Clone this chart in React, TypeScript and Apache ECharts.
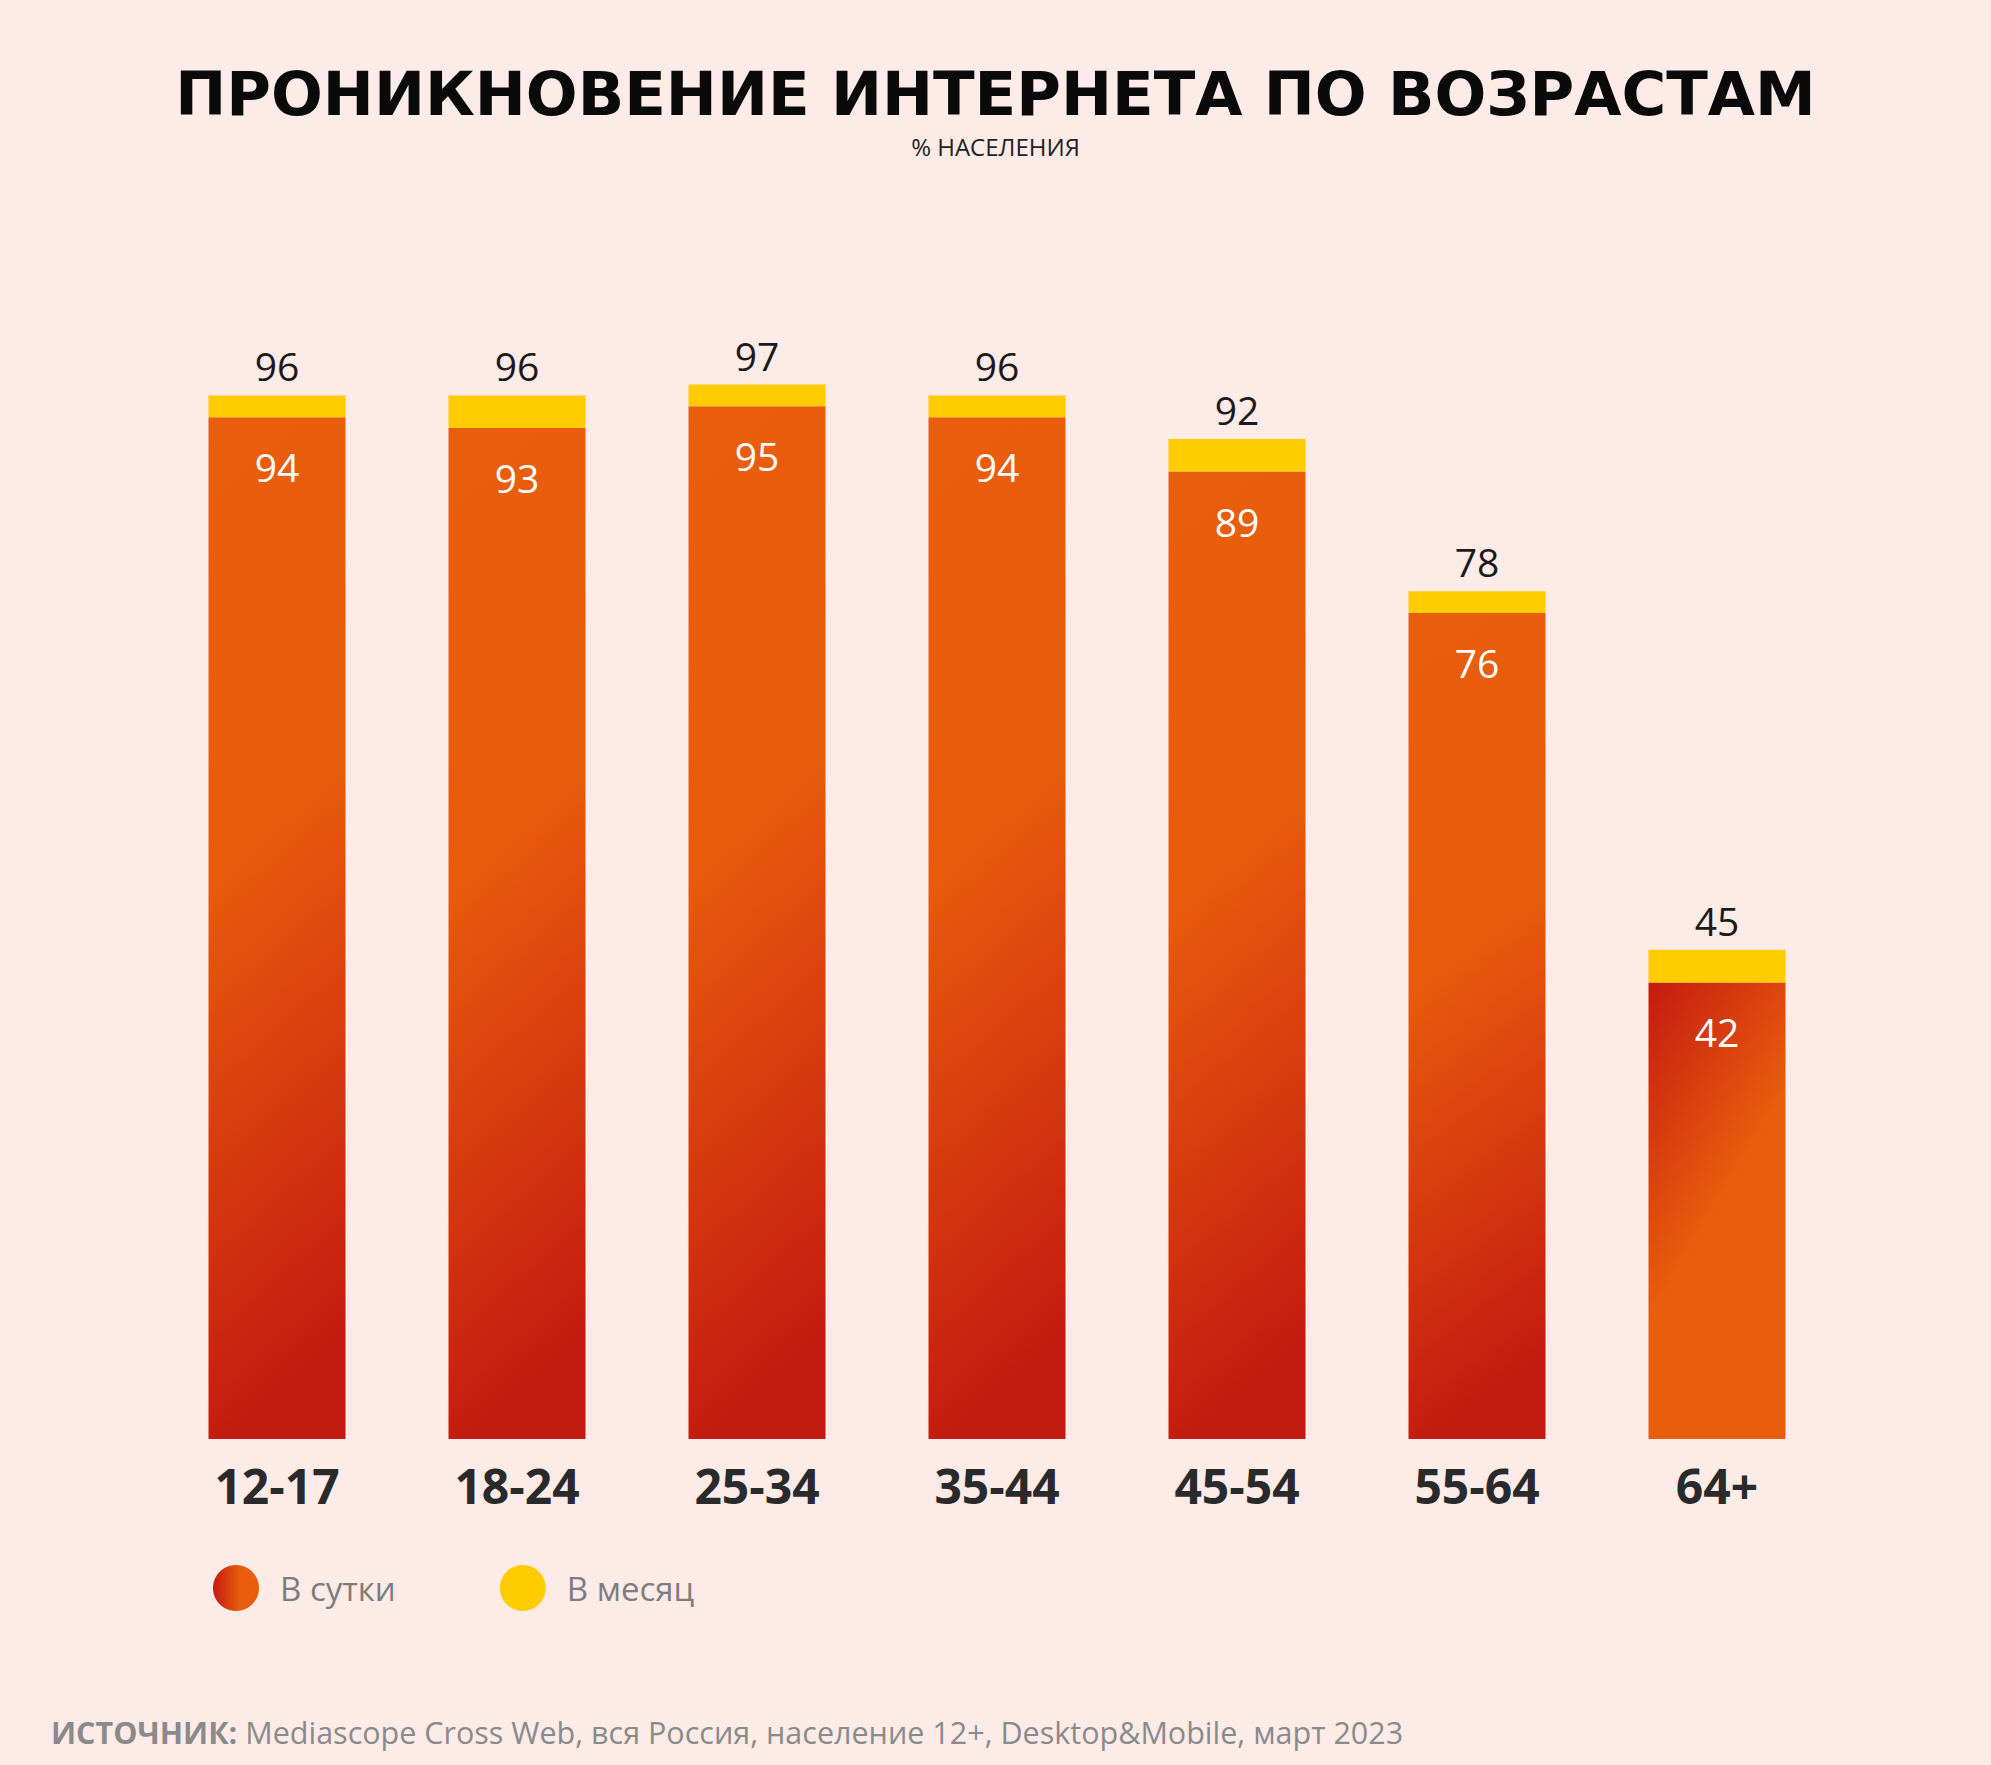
import { useEffect, useRef } from "react";
import * as echarts from "echarts";

const categories = ["12-17", "18-24", "25-34", "35-44", "45-54", "55-64", "64+"];
const daily = [94, 93, 95, 94, 89, 76, 42];
const monthly = [96, 96, 97, 96, 92, 78, 45];

const seriesNames = ["В сутки", "В месяц"];

const TITLE = "ПРОНИКНОВЕНИЕ ИНТЕРНЕТА ПО ВОЗРАСТАМ";
const SUBTITLE = "% НАСЕЛЕНИЯ";
const SOURCE = "Mediascope Cross Web, вся Россия, население 12+, Desktop&Mobile, март 2023";

const BG = "#FDEBE8";
const YELLOW = "#FFCC00";
const ORANGE = "#E95E0D";
const RED = "#C41B10";

export default function App() {
  const chartRef = useRef<HTMLDivElement>(null);

  useEffect(() => {
    document.body.style.margin = "0";
    if (!chartRef.current) return;
    const chart = echarts.init(chartRef.current, null, { renderer: "svg" });

    // основной градиент: оранжевый сверху, красный снизу
    const dailyGrad = new echarts.graphic.LinearGradient(0, 0, 0.12, 1, [
      { offset: 0, color: ORANGE },
      { offset: 0.45, color: "#E85B0D" },
      { offset: 1, color: RED },
    ]);
    // у 64+ градиент перевёрнут
    const lastGrad = new echarts.graphic.LinearGradient(0, 0, 0.3, 0.6, [
      { offset: 0, color: RED },
      { offset: 1, color: ORANGE },
    ]);
    const legendGrad = new echarts.graphic.LinearGradient(0, 0, 1, 0, [
      { offset: 0, color: RED },
      { offset: 0.6, color: ORANGE },
      { offset: 1, color: ORANGE },
    ]);

    const option: echarts.EChartsOption = {
      animation: false,
      backgroundColor: BG,
      title: [
        {
          text: TITLE,
          left: "center",
          top: 58,
          textStyle: {
            fontFamily: "DejaVu Sans",
            fontWeight: 900,
            fontSize: 61,
            color: "#0a0a0a",
          },
        },
        {
          text: SUBTITLE,
          left: "center",
          top: 129,
          textStyle: {
            fontFamily: "Open Sans",
            fontWeight: "normal",
            fontSize: 24,
            color: "#222",
          },
        },
      ],
      legend: {
        left: 208,
        top: 1560,
        icon: "circle",
        itemWidth: 46,
        itemHeight: 46,
        itemGap: 104,
        textStyle: {
          fontFamily: "Open Sans",
          fontSize: 33,
          color: "#7d7d7d",
          padding: [0, 0, 0, 16],
        },
        data: [
          { name: seriesNames[0], itemStyle: { color: legendGrad } },
          { name: seriesNames[1], itemStyle: { color: YELLOW } },
        ],
      },
      grid: { left: 157, right: 154, top: 352, bottom: 326 },
      xAxis: {
        type: "category",
        data: categories,
        axisLine: { show: false },
        axisTick: { show: false },
        axisLabel: {
          margin: 22,
          fontFamily: "Open Sans",
          fontWeight: "bold",
          fontSize: 48,
          color: "#2a2a2a",
        },
      },
      yAxis: {
        type: "value",
        min: 0,
        max: 100,
        show: false,
      },
      series: [
        {
          name: seriesNames[0],
          type: "bar",
          stack: "total",
          barWidth: 137,
          itemStyle: { color: dailyGrad },
          label: {
            show: true,
            position: "insideTop",
            distance: 30,
            fontFamily: "Open Sans",
            fontSize: 39,
            color: "#fff",
          },
          data: daily.map((v, i) =>
            i === daily.length - 1 ? { value: v, itemStyle: { color: lastGrad } } : v
          ),
        },
        {
          name: seriesNames[1],
          type: "bar",
          stack: "total",
          barWidth: 137,
          itemStyle: { color: YELLOW },
          label: {
            show: true,
            position: "top",
            distance: 10,
            fontFamily: "Open Sans",
            fontSize: 39,
            color: "#1a1a1a",
            formatter: (p: any) => String(monthly[p.dataIndex]),
          },
          data: monthly.map((m, i) => m - daily[i]),
        },
      ],
      graphic: [
        {
          type: "text",
          left: 51,
          top: 1716,
          style: {
            text: `{b|ИСТОЧНИК:} ${SOURCE}`,
            fontFamily: "Open Sans",
            fontSize: 30.5,
            fill: "#8a8a8a",
            rich: {
              b: {
                fontFamily: "Open Sans",
                fontWeight: "bold",
                fontSize: 30.5,
                color: "#8a8a8a",
              },
            },
          },
        },
      ],
    };

    chart.setOption(option);
    return () => {
      chart.dispose();
    };
  }, []);

  return <div ref={chartRef} style={{ width: 1991, height: 1765 }} />;
}
